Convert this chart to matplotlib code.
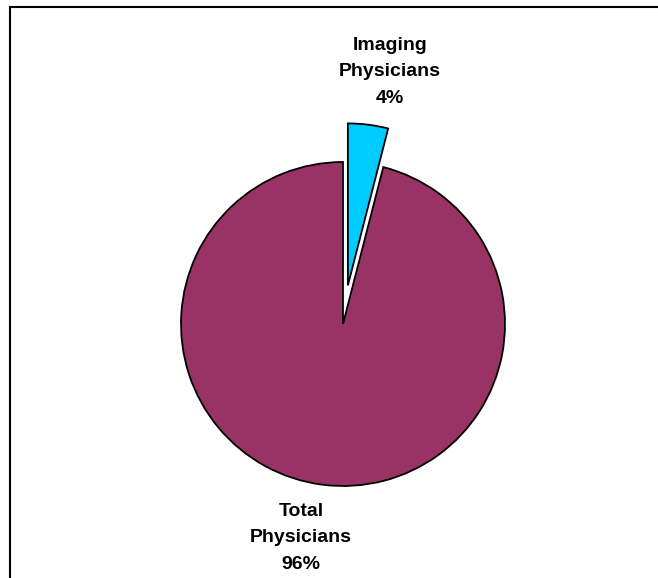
import matplotlib
matplotlib.use("Agg")
import matplotlib.pyplot as plt
from matplotlib.lines import Line2D

# Share of physicians
categories = ["Imaging\nPhysicians", "Total\nPhysicians"]
values = [4, 96]
colors = ["#00CCFF", "#993366"]
explode = [0.24, 0.0]

W, H = 658, 578
fig = plt.figure(figsize=(W / 100, H / 100), dpi=100)
ax = fig.add_axes([0, 0, 1, 1])

wedges, texts = ax.pie(
    values,
    explode=explode,
    colors=colors,
    startangle=90,
    counterclock=False,
    labels=[f"{c}\n{v}%" for c, v in zip(categories, values)],
    labeldistance=1.33,
    wedgeprops=dict(edgecolor="black", linewidth=1.3),
)

# Pixel-scaled limits: pie radius of 162 px centred at (343, 324)
r = 162.0
cx, cy = 343.0, 324.0
ax.set_xlim(-cx / r, (W - cx) / r)
ax.set_ylim(-(H - cy) / r, cy / r)
ax.set_aspect("auto")
ax.axis("off")

# Label styling, with a small sideways nudge for each label
nudges_px = [15, -15]
for t, dx in zip(texts, nudges_px):
    t.set_fontfamily("Liberation Sans")
    t.set_fontweight("bold")
    t.set_fontsize(14)
    t.set_ha("center")
    t.set_va("center")
    t.set_linespacing(1.72)
    x, y = t.get_position()
    t.set_position((x + dx / r, y))

# Outer chart-area border (top and left edges)
x0, y0 = 9.5 / W, 1 - 6.5 / H
fig.add_artist(Line2D([x0, x0], [0, y0], transform=fig.transFigure,
                      color="black", lw=1.5))
fig.add_artist(Line2D([x0, 1], [y0, y0], transform=fig.transFigure,
                      color="black", lw=1.5))

fig.savefig("out.png", dpi=100, facecolor="white")
